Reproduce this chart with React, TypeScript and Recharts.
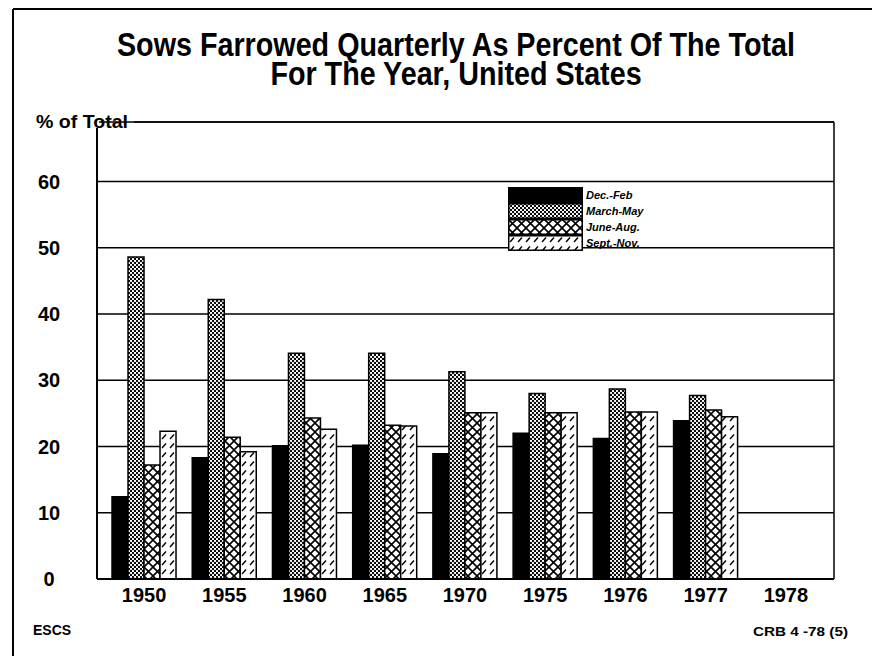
import React from 'react';
import { BarChart, Bar, XAxis, YAxis, CartesianGrid, Legend } from 'recharts';

const years = ['1950', '1955', '1960', '1965', '1970', '1975', '1976', '1977', '1978'];
const decFeb = [12.4, 18.3, 20.1, 20.2, 18.9, 22.0, 21.2, 23.9, null];
const marMay = [48.6, 42.2, 34.1, 34.1, 31.3, 28.0, 28.7, 27.7, null];
const junAug = [17.2, 21.4, 24.3, 23.2, 25.1, 25.1, 25.2, 25.5, null];
const sepNov = [22.3, 19.2, 22.6, 23.1, 25.1, 25.1, 25.2, 24.5, null];
const yTicks = [0, 10, 20, 30, 40, 50, 60];
const seriesNames = ['Dec.-Feb', 'March-May', 'June-Aug.', 'Sept.-Nov.'];
const titleLines = ['Sows Farrowed Quarterly As Percent Of The Total', 'For The Year, United States'];

const data = years.map((y, i) => ({
  year: y,
  decFeb: decFeb[i],
  marMay: marMay[i],
  junAug: junAug[i],
  sepNov: sepNov[i],
}));

const FONT = "'Liberation Sans', Arial, Helvetica, sans-serif";

const XTick = (props: any) => {
  const { x, y, payload } = props;
  return (
    <text x={x} y={y} dy={23} textAnchor="middle" fontSize={20} fontWeight="bold" fontFamily={FONT} fill="#000">
      {payload.value}
    </text>
  );
};

const YTick = (props: any) => {
  const { x, y, payload } = props;
  return (
    <text x={x} y={y} dx={-48} dy={7} textAnchor="middle" fontSize={20} fontWeight="bold" fontFamily={FONT} fill="#000">
      {payload.value}
    </text>
  );
};

const LegendContent = (props: any) => {
  const { payload } = props;
  const items = [...(payload || [])].sort(
    (a: any, b: any) => seriesNames.indexOf(a.value) - seriesNames.indexOf(b.value)
  );
  return (
    <div style={{ display: 'flex', flexDirection: 'column' }}>
      {items.map((entry: any, i: number) => (
        <div key={i} style={{ display: 'flex', alignItems: 'center', height: 16 }}>
          <svg width={75} height={16} style={{ display: 'block' }}>
            <rect x={0.75} y={0.75} width={73.5} height={14.5} fill={entry.color} stroke="#000" strokeWidth={1.5} />
          </svg>
          <span
            style={{
              fontFamily: FONT,
              fontSize: 11,
              fontWeight: 'bold',
              fontStyle: 'italic',
              marginLeft: 3,
              color: '#000',
              lineHeight: '16px',
              whiteSpace: 'nowrap',
            }}
          >
            {entry.value}
          </span>
        </div>
      ))}
    </div>
  );
};

const titleStyle: React.CSSProperties = {
  fontFamily: FONT,
  fontSize: 33,
  fontWeight: 'bold',
  lineHeight: '29px',
  height: 29,
  textAlign: 'center',
  whiteSpace: 'nowrap',
  transform: 'scaleX(0.87)',
  transformOrigin: '50% 50%',
  color: '#000',
};

export default function App() {
  return (
    <div style={{ position: 'relative', width: 872, height: 656, background: '#fff', overflow: 'hidden' }}>
      <style>{'body{margin:0;background:#fff}'}</style>
      <BarChart
        width={872}
        height={656}
        data={data}
        margin={{ top: 122, right: 38, bottom: 0, left: 0 }}
        barCategoryGap="10%"
        barGap={0}
      >
        <defs>
          <pattern id="pDots" width="4" height="4" patternUnits="userSpaceOnUse">
            <rect width="4" height="4" fill="#fff" />
            <circle cx="1" cy="1" r="1.15" fill="#000" />
            <circle cx="3" cy="3" r="1.15" fill="#000" />
          </pattern>
          <pattern id="pCross" width="9" height="9" patternUnits="userSpaceOnUse">
            <rect width="9" height="9" fill="#fff" />
            <path d="M0,0 L9,9 M9,0 L0,9" stroke="#000" strokeWidth="1.6" />
          </pattern>
          <pattern id="pHatch" width="8" height="9" patternUnits="userSpaceOnUse">
            <rect width="8" height="9" fill="#fff" />
            <path d="M2,7 L6,2.5" stroke="#000" strokeWidth="1.4" />
          </pattern>
        </defs>
        <CartesianGrid vertical={false} stroke="#000" strokeWidth={1.5} />
        <XAxis
          dataKey="year"
          height={77}
          padding={{ left: 7, right: 8 }}
          tickLine={false}
          tickSize={0}
          tickMargin={0}
          axisLine={{ stroke: '#000', strokeWidth: 2 }}
          tick={<XTick />}
          interval={0}
        />
        <YAxis
          width={97}
          domain={[0, 69]}
          ticks={yTicks}
          allowDataOverflow
          tickLine={false}
          tickSize={0}
          tickMargin={0}
          axisLine={{ stroke: '#000', strokeWidth: 2 }}
          tick={<YTick />}
        />
        <Legend
          content={<LegendContent />}
          layout="vertical"
          align="center"
          verticalAlign="middle"
          wrapperStyle={{ position: 'absolute', left: 508, top: 187, width: 160 }}
        />
        <Bar dataKey="decFeb" name={seriesNames[0]} fill="#000" stroke="#000" strokeWidth={1.5} isAnimationActive={false} />
        <Bar dataKey="marMay" name={seriesNames[1]} fill="url(#pDots)" stroke="#000" strokeWidth={1.5} isAnimationActive={false} />
        <Bar dataKey="junAug" name={seriesNames[2]} fill="url(#pCross)" stroke="#000" strokeWidth={1.5} isAnimationActive={false} />
        <Bar dataKey="sepNov" name={seriesNames[3]} fill="url(#pHatch)" stroke="#000" strokeWidth={1.5} isAnimationActive={false} />
      </BarChart>
      <svg
        width={872}
        height={656}
        style={{ position: 'absolute', left: 0, top: 0, pointerEvents: 'none' }}
      >
        <line x1={13} y1={9} x2={872} y2={9} stroke="#000" strokeWidth={2} />
        <line x1={13} y1={9} x2={13} y2={656} stroke="#000" strokeWidth={2} />
        <line x1={134} y1={122} x2={834} y2={122} stroke="#000" strokeWidth={1.5} />
        <line x1={834} y1={122} x2={834} y2={579} stroke="#000" strokeWidth={1.5} />
        <rect x={96} y={112} width={3} height={16} fill="#fff" />
        <text x={36} y={128} textLength={92} lengthAdjust="spacingAndGlyphs" fontSize={19} fontWeight="bold" fontFamily={FONT} fill="#000">
          % of Total
        </text>
        <text x={33} y={635} fontSize={14} fontWeight="bold" fontFamily={FONT} fill="#000">
          ESCS
        </text>
        <text x={753} y={636} textLength={95} lengthAdjust="spacingAndGlyphs" fontSize={13} fontWeight="bold" fontFamily={FONT} fill="#000">
          CRB 4  -78 (5)
        </text>
      </svg>
      <div style={{ position: 'absolute', left: 40, top: 30, width: 832, pointerEvents: 'none' }}>
        {titleLines.map((t, i) => (
          <div key={i} style={titleStyle}>
            {t}
          </div>
        ))}
      </div>
    </div>
  );
}
